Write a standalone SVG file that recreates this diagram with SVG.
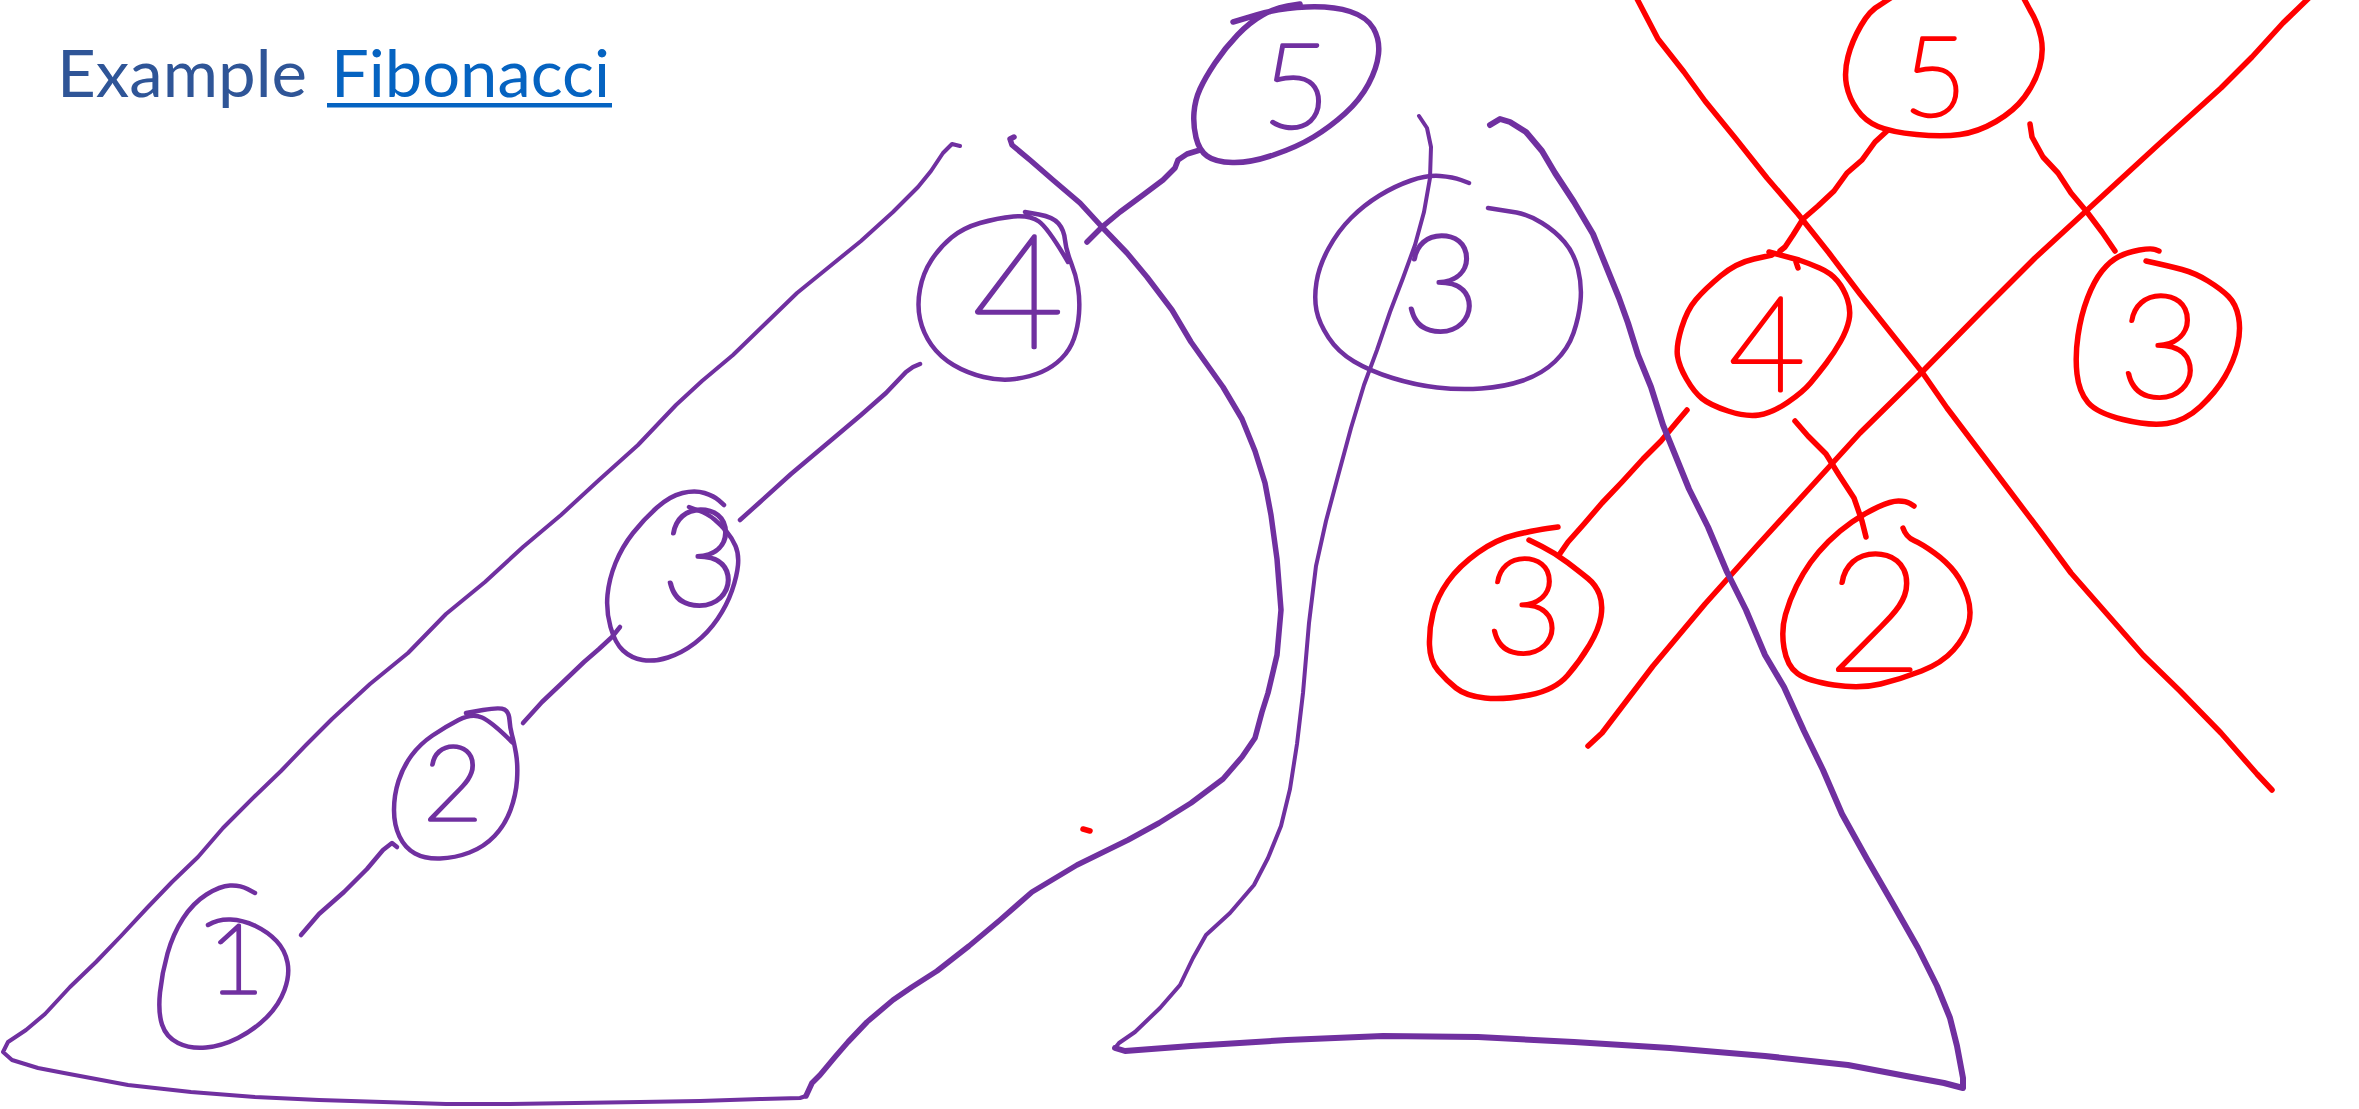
<svg xmlns="http://www.w3.org/2000/svg" width="2359" height="1109" viewBox="0 0 2359 1109">
  <style>
    .pu { fill: none; stroke: #7030A0; stroke-width: 4.5; stroke-linecap: round; stroke-linejoin: round; }
    .pu-thin { stroke-width: 4; }
    .pu-thick { stroke-width: 6; }
    .rd { fill: none; stroke: #FF0000; stroke-width: 5.5; stroke-linecap: round; stroke-linejoin: round; }
    .dg { font-family: "Lato", "DejaVu Sans", sans-serif; font-weight: 200; text-anchor: middle; stroke-width: 3.5; stroke-linejoin: round; stroke-linecap: round; }
    .dp { fill: #7030A0; stroke: #7030A0; }
    .dr { fill: #FF0000; stroke: #FF0000; }
    .title { font-family: "Lato", "Liberation Sans", sans-serif; font-size: 66px; }
  </style>
  <rect width="2359" height="1109" fill="#FFFFFF"/>

  <!-- heading -->
  <g id="title">
    <text class="title" x="57" y="97" fill="#2F5597" textLength="250" lengthAdjust="spacingAndGlyphs">Example</text>
    <text class="title" x="331" y="97" fill="#0563C1" textLength="279" lengthAdjust="spacingAndGlyphs">Fibonacci</text>
    <rect x="327" y="103" width="285" height="4.5" fill="#0563C1"/>
  </g>

  <!-- outline around the left recursion chain -->
  <g id="outline-left">
    <path class="pu pu-thin" d="M960,146 L952,144 L943,153 L931,171 L918,187 L893,212 L861,241 L829,267 L797,293 L765,324 L733,355 L702,381 L676,405 L638,445 L599,480 L561,515 L523,547 L485,582 L446,614 L408,653 L370,684 L332,719 L306,745 L281,771 L255,796 L223,828 L198,857 L172,882 L147,908 L121,936 L96,962 L70,987 L45,1014 L26,1030 L8,1042 L3,1052 L12,1060 L38,1068 L64,1073 L96,1079 L128,1085 L191,1092 L255,1097 L319,1100 L383,1102 L446,1104 L510,1104 L575,1103 L640,1102 L700,1101 L760,1099 L800,1098 L806,1096"/>
    <path class="pu" style="stroke-width:5.5" d="M806,1096 L812,1083 L820,1075 L835,1057 L848,1042 L867,1022 L893,1000 L912,987 L937,971 L969,946 L1000,920 L1032,892 L1077,865 L1128,840 L1159,823 L1191,803 L1223,779 L1242,757 L1255,738 L1262,712 L1268,693 L1277,655 L1281,610 L1277,559 L1271,515 L1265,483 L1255,451 L1242,419 L1223,387 L1191,342 L1172,310 L1147,277 L1127,253 L1102,227 L1080,203 L1053,180 L1030,160 L1012,145 L1010,139 L1014,137"/>
  </g>

  <!-- left chain nodes -->
  <g id="node-l5">
    <path class="pu" style="stroke-width:5.5" d="M1233,22 L1256.5,15 Q1280,8 1306.5,7 Q1333,6 1350,11.5 Q1367,17 1373.5,28.5 Q1380,40 1378.5,54 Q1377,68 1368.5,84 Q1360,100 1345,113.5 Q1330,127 1313.5,137 Q1297,147 1273.5,155 Q1250,163 1232.5,162.5 Q1215,162 1207,156 Q1199,150 1196,137.5 Q1193,125 1194,112.5 Q1195,100 1200,89 Q1205,78 1215,63 Q1225,48 1237.5,35 Q1250,22 1262.5,15 Q1275,8 1287.5,6 L1300,4"/>
    <text class="dg dp" x="1296" y="128" font-size="118">5</text>
  </g>
  <g id="node-l4">
    <path class="pu" d="M1025,212 L1039,214.5 Q1053,217 1058.5,223.5 Q1064,230 1065,240 Q1066,250 1071,262.5 Q1076,275 1078,287.5 Q1080,300 1079,313.5 Q1078,327 1074,338.5 Q1070,350 1061.5,358.5 Q1053,367 1041.5,372 Q1030,377 1015,379 Q1000,381 983.5,377 Q967,373 953.5,365 Q940,357 931.5,345 Q923,333 920,319 Q917,305 920,289 Q923,273 931.5,260 Q940,247 951.5,237.5 Q963,228 980,223 Q997,218 1013.5,216.5 Q1030,215 1039,221.5 Q1048,228 1068,262"/>
    <text class="dg dp" x="1018" y="347" font-size="158">4</text>
  </g>
  <g id="node-l3">
    <path class="pu" d="M724,505 L719,500.5 Q714,496 704.5,493 Q695,490 682.5,493 Q670,496 657,507.5 Q644,519 633,533 Q622,547 615.5,563 Q609,579 607.5,595 Q606,611 610.5,627 Q615,643 623,650.5 Q631,658 642.5,660 Q654,662 668,657.5 Q682,653 695,643 Q708,633 717.5,619 Q727,605 732,590.5 Q737,576 738,565 Q739,554 735.5,546 Q732,538 726.5,531.5 Q721,525 714.5,519.5 Q708,514 698.5,510.5 L689,507"/>
    <text class="dg dp" x="700" y="606" font-size="136">3</text>
  </g>
  <g id="node-l2">
    <path class="pu" d="M466,713 L483,710 Q500,707 504.5,709.5 Q509,712 509.5,720 Q510,728 512,735 Q514,742 516,753.5 Q518,765 517,780 Q516,795 510.5,810 Q505,825 494.5,836 Q484,847 469.5,852.5 Q455,858 440,858.5 Q425,859 415,853.5 Q405,848 399.5,836.5 Q394,825 394,810 Q394,795 398.5,781 Q403,767 411.5,755.5 Q420,744 432.5,735.5 Q445,727 458.5,720 Q472,713 482,717.5 Q492,722 513,743"/>
    <text class="dg dp" x="453" y="820" font-size="104">2</text>
  </g>
  <g id="node-l1">
    <path class="pu" d="M255,893 L247.5,889 Q240,885 230,885.5 Q220,886 206.5,894.5 Q193,903 183,918.5 Q173,934 167.5,953.5 Q162,973 160,992.5 Q158,1012 162,1024.5 Q166,1037 178,1043 Q190,1049 206,1047.5 Q222,1046 238,1038 Q254,1030 266.5,1017.5 Q279,1005 284.5,990 Q290,975 287.5,962.5 Q285,950 276.5,941 Q268,932 255.5,926 Q243,920 230.5,919.5 Q218,919 208,925"/>
    <text class="dg dp" x="236" y="993" font-size="96">1</text>
  </g>

  <!-- red subtree, struck through -->
  <g id="node-r5">
    <path class="rd" d="M1895,-5 L1880,5 Q1870,10 1861,25.5 Q1852,41 1848,56.5 Q1844,72 1846.5,85 Q1849,98 1857,109.5 Q1865,121 1878,126.5 Q1891,132 1916.5,134.5 Q1942,137 1960,134.5 Q1978,132 1996,121.5 Q2014,111 2024.5,97 Q2035,83 2039.5,67.5 Q2044,52 2041,37.5 Q2038,23 2030,10 L2022,-5"/>
    <text class="dg dr" x="1935" y="116" font-size="110">5</text>
  </g>
  <g id="node-r4">
    <path class="rd" d="M1772,255 L1754,259 Q1736,263 1720.5,276 Q1705,289 1696,299.5 Q1687,310 1681.5,328 Q1676,346 1677.5,356 Q1679,366 1686.5,379 Q1694,392 1702,398.5 Q1710,405 1728,411 Q1746,417 1759,415 Q1772,413 1787.5,402.5 Q1803,392 1810.5,383 Q1818,374 1826,363.5 Q1834,353 1840.5,341.5 Q1847,330 1849,320 Q1851,310 1847.5,299.5 Q1844,289 1837.5,281 Q1831,273 1819.5,268 Q1808,263 1799,260 L1769,252 M1796,262 L1798,268"/>
    <text class="dg dr" x="1767" y="391" font-size="132">4</text>
  </g>
  <g id="node-r3a">
    <path class="rd" d="M1558,527 L1547,528.5 Q1536,530 1516.5,534.5 Q1497,539 1478,552.5 Q1459,566 1448,581.5 Q1437,597 1433,613 Q1429,629 1429.5,645 Q1430,661 1438,670.5 Q1446,680 1456,688 Q1466,696 1485,698 Q1504,700 1529.5,695 Q1555,690 1567.5,675.5 Q1580,661 1589.5,645 Q1599,629 1601,616.5 Q1603,604 1599.5,594.5 Q1596,585 1588,578.5 Q1580,572 1567.5,562.5 Q1555,553 1542,546.5 L1529,540"/>
    <text class="dg dr" x="1524" y="654" font-size="135">3</text>
  </g>
  <g id="node-r2">
    <path class="rd" d="M1914,506 L1910,503.5 Q1906,501 1898.5,501 Q1891,501 1878,507 Q1865,513 1852,522 Q1839,531 1828.5,541.5 Q1818,552 1810.5,562.5 Q1803,573 1796.5,586 Q1790,599 1785.5,614.5 Q1781,630 1784,648 Q1787,666 1797.5,673.5 Q1808,681 1834,685 Q1860,689 1880.5,684 Q1901,679 1921.5,671 Q1942,663 1953.5,650 Q1965,637 1968.5,624 Q1972,611 1967.5,597 Q1963,583 1955,572.5 Q1947,562 1934.5,553 Q1922,544 1914,540.5 Q1906,537 1903,528"/>
    <text class="dg dr" x="1875" y="671" font-size="167">2</text>
  </g>
  <g id="node-r3b">
    <path class="rd" d="M2159,251 L2155,249.5 Q2151,248 2139.5,250 Q2128,252 2119,256.5 Q2110,261 2102,271 Q2094,281 2087.5,298 Q2081,315 2078,335.5 Q2075,356 2077,374 Q2079,392 2088,402.5 Q2097,413 2123,419.5 Q2149,426 2167,423.5 Q2185,421 2200.5,406.5 Q2216,392 2225,376.5 Q2234,361 2237.5,345.5 Q2241,330 2238.5,317 Q2236,304 2228.5,296.5 Q2221,289 2208,281 Q2195,273 2182,269.5 Q2169,266 2146,261"/>
    <text class="dg dr" x="2160" y="398" font-size="145">3</text>
  </g>

  <!-- tree edges -->
  <g id="connectors">
    <path class="pu" d="M301,935 L319,914 L344,892 L367,869 L383,850 L392,843 L397,847"/>
    <path class="pu" d="M523,723 L542,702 L561,684 L584,662 L599,649 L612,637 L620,627"/>
    <path class="pu" d="M740,520 L759,503 L791,474 L829,442 L861,415 L886,393 L906,372 L913,367 L920,364"/>
    <path class="pu" style="stroke-width:5.5" d="M1087,242 L1102,227 L1120,212 L1143,195 L1163,180 L1175,168 L1178,160 L1187,154 L1200,150"/>
    <path class="rd" d="M1887,131 L1875,142 L1862,160 L1847,173 L1834,191 L1818,206 L1803,219 L1793,235 L1785,247 L1780,251"/>
    <path class="rd" d="M2030,124 L2032,137 L2043,157 L2058,173 L2071,193 L2087,212 L2102,232 L2115,251"/>
    <path class="rd" d="M1687,410 L1676,423 L1661,441 L1643,459 L1622,482 L1602,503 L1584,524 L1568,542 L1559,555"/>
    <path class="rd" d="M1795,421 L1808,436 L1826,454 L1839,475 L1854,498 L1862,521 L1866,537"/>
  </g>

  <!-- strike-through cross over the red subtree, and a stray mark -->
  <g id="crossout">
    <path class="rd" d="M1635,-5 L1658,39 L1684,72 L1705,101 L1736,139 L1767,178 L1798,214 L1829,253 L1860,294 L1891,333 L1922,372 L1947,408 L1978,449 L2009,490 L2040,531 L2071,573 L2107,614 L2143,655 L2180,691 L2221,733 L2257,774 L2272,790"/>
    <path class="rd" d="M2312,-5 L2283,23 L2252,57 L2221,88 L2159,144 L2097,201 L2035,258 L1983,310 L1922,372 L1860,433 L1808,490 L1756,547 L1705,604 L1653,666 L1602,733 L1588,746"/>
    <path class="rd" d="M1083,829 L1090,831"/>
  </g>

  <!-- outline around the middle subtree -->
  <g id="outline-middle">
    <path class="pu pu-thin" d="M1419,116 L1427,128 L1431,147 L1430,178 L1424,212 L1415,245 L1403,278 L1390,312 L1377,350 L1364,385 L1351,428 L1338,476 L1326,521 L1316,566 L1309,623 L1303,693 L1297,744 L1290,789 L1281,826 L1268,858 L1254,885 L1230,913 L1206,935 L1193,958 L1180,985 L1160,1008 L1135,1032 L1119,1043 L1115,1048"/>
    <path class="pu pu-thick" d="M1115,1048 L1125,1051 L1191,1046 L1287,1040 L1383,1036 L1478,1037 L1574,1042 L1670,1048 L1765,1056 L1848,1065 L1906,1076 L1944,1083 L1963,1088 L1963,1078 L1957,1046 L1950,1018 L1937,986 L1918,948 L1893,904 L1867,859 L1842,814 L1823,770 L1804,731 L1784,687 L1765,655 L1746,610 L1727,572 L1708,527 L1689,489 L1676,457 L1663,425 L1651,387 L1638,355 L1628,323 L1619,298 L1606,266 L1593,234 L1574,202 L1555,173 L1542,151 L1526,132 L1510,122 L1500,119 L1490,125"/>
  </g>

  <g id="node-m3">
    <path class="pu" d="M1469,183 L1461,180 Q1453,177 1440,176 Q1427,175 1411,180.5 Q1395,186 1379.5,195.5 Q1364,205 1351,218 Q1338,231 1328.5,248.5 Q1319,266 1316.5,282 Q1314,298 1316.5,310.5 Q1319,323 1328.5,337.5 Q1338,352 1354,361.5 Q1370,371 1392.5,378 Q1415,385 1437,387.5 Q1459,390 1481.5,388.5 Q1504,387 1523,380.5 Q1542,374 1555,361.5 Q1568,349 1573.5,333 Q1579,317 1580.5,301 Q1582,285 1578,269 Q1574,253 1564.5,242 Q1555,231 1542,223 Q1529,215 1516.5,212.5 L1488,208"/>
    <text class="dg dp" x="1441" y="332" font-size="136">3</text>
  </g>
</svg>
